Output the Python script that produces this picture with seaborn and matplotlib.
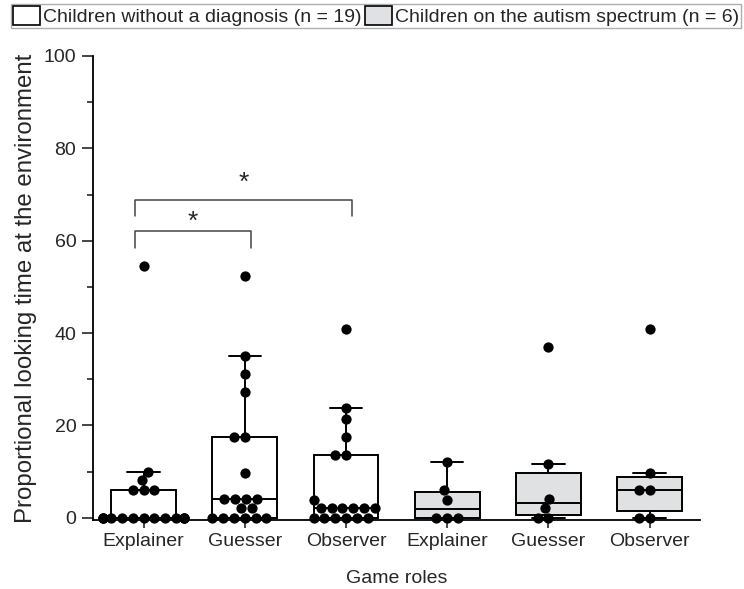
import numpy as np
import pandas as pd
import matplotlib
matplotlib.use("Agg")
import matplotlib.pyplot as plt
from matplotlib.patches import Patch
import seaborn as sns

# values (% looking time at the environment)
td_explainer = [54.5, 10, 8.2, 6, 6, 6] + [0] * 13
td_guesser = [52.4, 35.1, 31.1, 27.2, 17.5, 17.5, 9.7, 4.1, 4.1, 4.1, 4.1, 2.1, 2.1] + [0] * 6
td_observer = [40.8, 23.8, 21.4, 17.5, 13.6, 13.6, 3.9, 2.1, 2.1, 2.1, 2.1, 2.1, 2.1] + [0] * 6
asd_explainer = [12.1, 6, 3.9, 0, 0, 0]
asd_guesser = [36.9, 11.7, 4.1, 2.1, 0, 0]
asd_observer = [40.8, 9.7, 6, 6, 0, 0]

roles = ["Explainer", "Guesser", "Observer", "Explainer", "Guesser", "Observer"]
groups = ["Children without a diagnosis (n = 19)", "Children on the autism spectrum (n = 6)"]
group_colors = ["white", "#dfe1e4"]

# significance brackets: (from, to, height, star height)
sig_pairs = [(0, 1, 62.0, 64.0), (0, 2, 68.8, 72.5)]

all_values = [td_explainer, td_guesser, td_observer, asd_explainer, asd_guesser, asd_observer]
rows = []
for i, vals in enumerate(all_values):
    for v in vals:
        rows.append({"cond": f"c{i}", "value": v})
df = pd.DataFrame(rows)
order = [f"c{i}" for i in range(6)]
box_palette = {f"c{i}": group_colors[0 if i < 3 else 1] for i in range(6)}

sns.set_style("white")
plt.rcParams['font.family'] = ['Liberation Sans', 'DejaVu Sans']

fig = plt.figure(figsize=(7.44, 5.89), dpi=100)
ax = fig.add_axes([0.125, 0.117, 0.816, 0.788])

sns.boxplot(data=df, x="cond", y="value", order=order, hue="cond", palette=box_palette,
            legend=False, width=0.64, showfliers=False, whis=1.5, linewidth=1.4,
            linecolor="black", ax=ax)
sns.swarmplot(data=df, x="cond", y="value", order=order, color="black", size=7.4,
              ax=ax, clip_on=False, zorder=4)

ax.set_xlim(-0.5, 5.5)
ax.set_ylim(-0.5, 100)
ax.set_yticks([0, 20, 40, 60, 80, 100])
ax.set_yticks([10, 30, 50, 70, 90], minor=True)
ax.set_xticks(range(6))
ax.set_xticklabels(roles, fontsize=14)
ax.tick_params(axis="y", which="major", labelsize=14, length=8, width=1.2, pad=4,
               left=True, direction="out")
ax.tick_params(axis="y", which="minor", length=4, width=1.2, left=True, direction="out")
ax.tick_params(axis="x", length=6, width=1.2, bottom=True, direction="out")
for side in ["top", "right"]:
    ax.spines[side].set_visible(False)
for side in ["left", "bottom"]:
    ax.spines[side].set_linewidth(1.3)
    ax.spines[side].set_color("black")

ax.set_xlabel("Game roles", fontsize=14, labelpad=14)
ax.set_ylabel("Proportional looking time at the environment", fontsize=17.3, labelpad=5)

# significance brackets
for a, b, h, sh in sig_pairs:
    xa, xb = a - 0.08, b + 0.06
    ax.plot([xa, xa, xb, xb], [h - 3.5, h, h, h - 3.5], color="#444444", lw=1.1)
    ax.text((xa + xb) / 2, sh, "*", ha="center", va="center", fontsize=19)

handles = [Patch(facecolor=c, edgecolor="black", linewidth=1.2) for c in group_colors]
fig.legend(handles, groups, loc="upper left", bbox_to_anchor=(0.015, 0.993), ncol=2,
           fontsize=14, frameon=True, fancybox=False, edgecolor="#999999",
           handlelength=1.4, handleheight=1.1, handletextpad=0.15, columnspacing=0.15,
           borderpad=0.1, borderaxespad=0.0)

fig.savefig("out.png", dpi=100)
